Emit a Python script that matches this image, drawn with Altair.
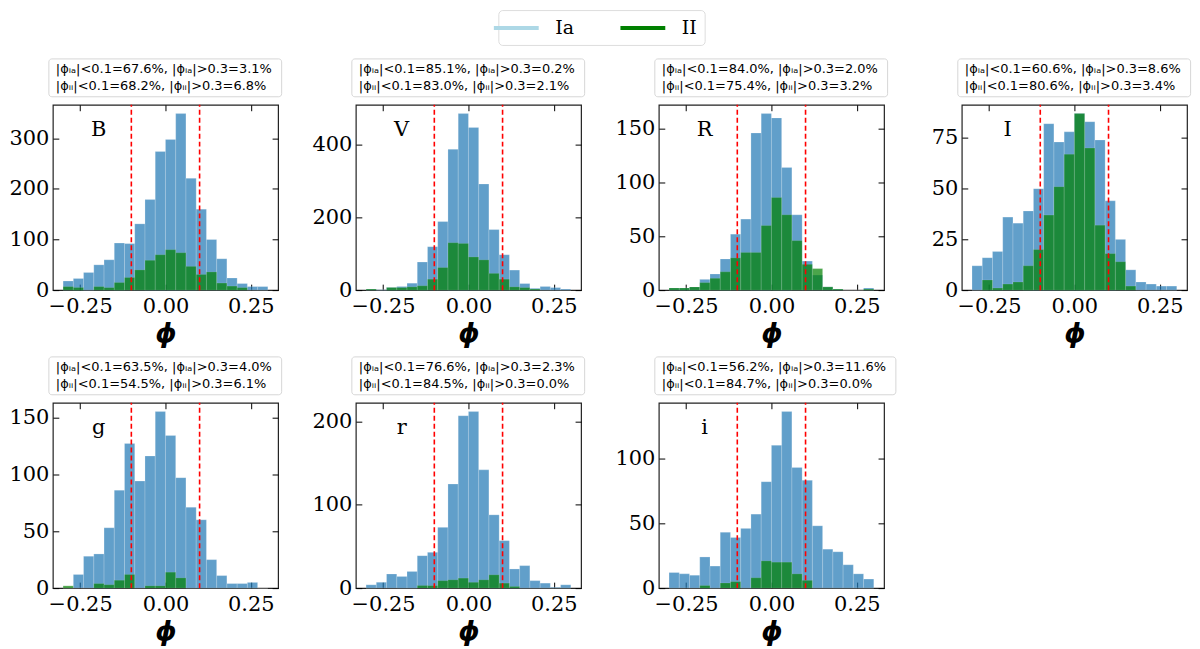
import altair as alt
import pandas as pd

# histogram bins shared by all panels
BIN_EDGES = [-0.30, -0.27, -0.24, -0.21, -0.18, -0.15, -0.12, -0.09, -0.06, -0.03,
             0.00, 0.03, 0.06, 0.09, 0.12, 0.15, 0.18, 0.21, 0.24, 0.27, 0.30]

BANDS = ["B", "V", "R", "I", "g", "r", "i"]

IA_B = [18, 23, 35, 50, 60, 93, 92, 131, 179, 274, 298, 349, 221, 160, 100, 62, 24, 13, 7, 7]
II_B = [7, 5, 0, 7, 5, 15, 25, 40, 59, 70, 80, 74, 47, 31, 36, 14, 8, 5, 0, 0]
IA_V = [3, 1, 7, 10, 19, 77, 119, 188, 386, 484, 446, 291, 166, 97, 55, 18, 5, 10, 7, 3]
II_V = [3, 0, 7, 7, 9, 12, 30, 62, 130, 128, 91, 83, 46, 30, 9, 7, 3, 0, 0, 0]
IA_R = [2, 2, 3, 10, 15, 29, 52, 66, 146, 164, 160, 114, 70, 27, 14, 3, 1, 0, 0, 2]
II_R = [2, 2, 3, 7, 11, 17, 30, 35, 35, 60, 86, 70, 46, 24, 20, 3, 1, 0, 0, 1]
IA_I = [12, 16, 19, 36, 33, 39, 50, 82, 73, 78, 87, 83, 74, 44, 25, 10, 4, 3, 2, 2]
II_I = [0, 5, 1, 3, 4, 12, 20, 37, 51, 67, 87, 70, 32, 18, 14, 2, 0, 0, 0, 0]
IA_g = [0, 12, 28, 30, 53, 86, 127, 94, 116, 155, 134, 97, 71, 60, 25, 11, 4, 4, 5, 0]
II_g = [2, 0, 0, 4, 3, 7, 12, 0, 2, 2, 14, 9, 0, 0, 0, 0, 0, 0, 0, 0]
IA_r = [4, 7, 17, 14, 20, 39, 43, 73, 125, 207, 212, 142, 88, 57, 23, 27, 9, 6, 1, 4]
II_r = [0, 0, 0, 0, 0, 3, 3, 9, 10, 12, 7, 10, 16, 6, 2, 0, 0, 0, 0, 0]
IA_i = [12, 11, 10, 24, 17, 43, 39, 46, 57, 82, 110, 136, 93, 83, 48, 30, 28, 18, 11, 7]
II_i = [0, 0, 0, 2, 0, 4, 5, 0, 8, 21, 20, 20, 11, 6, 0, 0, 0, 0, 0, 0]

YTICKS_B = [0, 100, 200, 300]
YTICKS_V = [0, 200, 400]
YTICKS_R = [0, 50, 100, 150]
YTICKS_I = [0, 25, 50, 75]
YTICKS_g = [0, 50, 100, 150]
YTICKS_r = [0, 100, 200]
YTICKS_i = [0, 50, 100]
XTICKS = [-0.25, 0.0, 0.25]
CUTS = [-0.1, 0.1]

# percentages quoted above each panel
IA_WITHIN = [67.6, 85.1, 84.0, 60.6, 63.5, 76.6, 56.2]
IA_BEYOND = [3.1, 0.2, 2.0, 8.6, 4.0, 2.3, 11.6]
II_WITHIN = [68.2, 83.0, 75.4, 80.6, 54.5, 84.5, 84.7]
II_BEYOND = [6.8, 2.1, 3.2, 3.4, 6.1, 0.0, 0.0]

SERIES = ["Ia", "II"]
SERIES_COLORS = ["lightblue", "green"]

W, H = 226, 186
NOTE_SIZE = 13
CHAR_EM = {"|": 0.337, "ϕ": 0.68, "ᵢ": 0.25, "ₐ": 0.4, "<": 0.838, ">": 0.838,
           "=": 0.838, ".": 0.318, ",": 0.318, " ": 0.318, "%": 0.95}


def text_width(s):
    return sum(CHAR_EM.get(c, 0.636) for c in s) * NOTE_SIZE


def tick_axis_x(orient):
    # inward ticks: an axis moved across the plot so its ticks point inside
    return alt.Axis(orient=orient, offset=-H, values=XTICKS, labels=False, ticks=True,
                    tickSize=6, tickColor="black", domain=False, grid=False, title=None)


def tick_axis_y(orient, values):
    return alt.Axis(orient=orient, offset=-W, values=values, labels=False, ticks=True,
                    tickSize=6, tickColor="black", domain=False, grid=False, title=None)


def panel(k, ia, ii, yticks, with_legend=False):
    band = BANDS[k]
    df = pd.DataFrame({"lo": BIN_EDGES[:-1], "hi": BIN_EDGES[1:], "Ia": ia, "II": ii})
    ymax = 1.05 * max(max(ia), max(ii))
    xs = alt.Scale(domain=[-0.33, 0.33], nice=False, zero=False)
    ys = alt.Scale(domain=[0, ymax], nice=False, zero=False)

    main_x = alt.Axis(values=XTICKS, format=".2f", ticks=False, domain=False, grid=False,
                      labelFont="DejaVu Serif", labelFontSize=21, labelColor="black",
                      labelPadding=5, labelFlush=False, title="ϕ",
                      titleFont="DejaVu Sans", titleFontSize=27, titleFontWeight="bold",
                      titleFontStyle="italic", titleColor="black", titlePadding=5)
    main_y = alt.Axis(values=yticks, ticks=False, domain=False, grid=False,
                      labelFont="DejaVu Serif", labelFontSize=21, labelColor="black",
                      labelPadding=4, title=None)

    base = alt.Chart(df)
    ia_bars = base.mark_bar(color="#1f77b4", opacity=0.7, stroke="white",
                            strokeWidth=0.6, strokeOpacity=0.35).encode(
        x=alt.X("lo:Q", scale=xs, axis=main_x),
        x2="hi",
        y=alt.Y("Ia:Q", scale=ys, axis=main_y),
        y2=alt.datum(0),
    )
    ii_bars = base.mark_bar(color="green", opacity=0.7, stroke="white",
                            strokeWidth=0.6, strokeOpacity=0.25).encode(
        x=alt.X("lo:Q", scale=xs, axis=tick_axis_x("top")),
        x2="hi",
        y=alt.Y("II:Q", scale=ys, axis=tick_axis_y("right", yticks)),
        y2=alt.datum(0),
    )
    cuts = alt.Chart(pd.DataFrame({"cut": CUTS, "y0": [0, 0], "y1": [ymax, ymax]})).mark_rule(
        color="red", strokeDash=[5, 3], strokeWidth=1.6).encode(
        x=alt.X("cut:Q", scale=xs, axis=tick_axis_x("bottom")),
        y=alt.Y("y0:Q", scale=ys, axis=tick_axis_y("left", yticks)),
        y2="y1",
    )

    line1 = f"|ϕᵢₐ|<0.1={IA_WITHIN[k]:.1f}%, |ϕᵢₐ|>0.3={IA_BEYOND[k]:.1f}%"
    line2 = f"|ϕᵢᵢ|<0.1={II_WITHIN[k]:.1f}%, |ϕᵢᵢ|>0.3={II_BEYOND[k]:.1f}%"
    one = alt.Chart(pd.DataFrame({"band": [band], "l1": [line1], "l2": [line2]}))
    bw = max(text_width(line1), text_width(line2)) + 14
    box = one.mark_rect(fill="white", stroke="#d6d6d6", strokeWidth=1, cornerRadius=3).encode(
        x=alt.value(-4), x2=alt.value(-4 + bw), y=alt.value(-46), y2=alt.value(-8))
    note1 = one.mark_text(align="left", baseline="middle", font="DejaVu Sans",
                          fontSize=NOTE_SIZE, color="black").encode(
        x=alt.value(3), y=alt.value(-36), text="l1:N")
    note2 = one.mark_text(align="left", baseline="middle", font="DejaVu Sans",
                          fontSize=NOTE_SIZE, color="black").encode(
        x=alt.value(3), y=alt.value(-19), text="l2:N")
    label = one.mark_text(align="center", baseline="middle", font="DejaVu Serif",
                          fontSize=21, color="black").encode(
        x=alt.value(46), y=alt.value(25), text="band:N")

    layers = [ia_bars, ii_bars, cuts, label, box, note1, note2]
    if with_legend:
        leg = alt.Chart(pd.DataFrame({"series": SERIES})).mark_line().encode(
            x=alt.value(0), y=alt.value(0),
            color=alt.Color("series:N", scale=alt.Scale(domain=SERIES, range=SERIES_COLORS),
                            legend=alt.Legend(orient="none", legendX=447, legendY=-95,
                                              direction="horizontal", title=None,
                                              symbolType="M-2.5,0H2.5", symbolSize=324,
                                              symbolStrokeWidth=4, symbolOpacity=1,
                                              labelFont="DejaVu Serif", labelFontSize=19,
                                              labelColor="black", labelOffset=28,
                                              columnPadding=38, padding=7,
                                              strokeColor="#dddddd", fillColor="white",
                                              cornerRadius=4)))
        layers.append(leg)
    return alt.layer(*layers).resolve_axis(x="independent", y="independent").properties(
        width=W, height=H)


panels = [
    panel(0, IA_B, II_B, YTICKS_B, with_legend=True),
    panel(1, IA_V, II_V, YTICKS_V),
    panel(2, IA_R, II_R, YTICKS_R),
    panel(3, IA_I, II_I, YTICKS_I),
    panel(4, IA_g, II_g, YTICKS_g),
    panel(5, IA_r, II_r, YTICKS_r),
    panel(6, IA_i, II_i, YTICKS_i),
]

chart = alt.concat(*panels, columns=4, spacing={"row": 113, "column": 78},
                   bounds="flush").properties(padding=0).configure_view(
    stroke="#222222", strokeWidth=1.2)

chart.save("out.html", embed_options={"renderer": "svg", "actions": False})
